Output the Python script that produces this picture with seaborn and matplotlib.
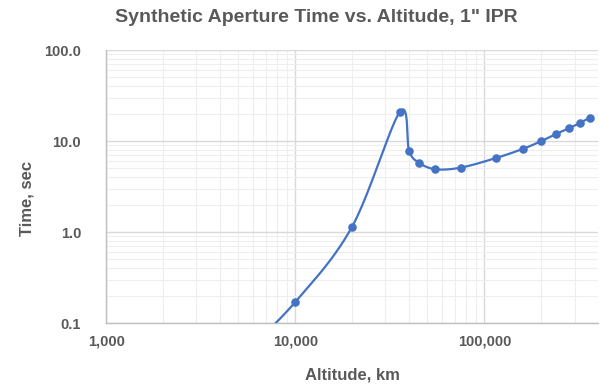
import numpy as np
import pandas as pd
import matplotlib
matplotlib.use("Agg")
import matplotlib.pyplot as plt
import seaborn as sns
from matplotlib.ticker import FixedLocator, LogLocator, FuncFormatter, NullFormatter

# ---- data ----
altitude_km = [5000, 10000, 20000, 35786, 40000, 45000, 55000, 75000,
               115000, 160000, 200000, 240000, 280000, 320000, 360000]
time_sec = [0.04, 0.17, 1.15, 21.0, 7.8, 5.8, 4.9, 5.1,
            6.5, 8.2, 10.0, 12.0, 13.8, 15.8, 18.0]
x_ticks = [1000, 10000, 100000]
y_ticks = [0.1, 1.0, 10.0, 100.0]
title = 'Synthetic Aperture Time vs. Altitude, 1" IPR'
x_label = "Altitude, km"
y_label = "Time, sec"

# ---- smoothed line (Excel-like Catmull-Rom in log-log space) ----
def smooth(xs, ys, n=40):
    lx = np.log10(np.asarray(xs, float))
    ly = np.log10(np.asarray(ys, float))
    P = np.column_stack([lx, ly])
    out = []
    for i in range(len(P) - 1):
        p0 = P[i - 1] if i > 0 else P[i]
        p1, p2 = P[i], P[i + 1]
        p3 = P[i + 2] if i + 2 < len(P) else P[i + 1]
        c1 = p1 + (p2 - p0) / 6.0
        c2 = p2 - (p3 - p1) / 6.0
        t = np.linspace(0, 1, n)[:, None]
        seg = ((1 - t) ** 3) * p1 + 3 * ((1 - t) ** 2) * t * c1 + 3 * (1 - t) * t ** 2 * c2 + t ** 3 * p2
        out.append(seg if i == 0 else seg[1:])
    S = np.vstack(out)
    return pd.DataFrame({"x": 10 ** S[:, 0], "y": 10 ** S[:, 1], "i": np.arange(len(S))})

sns.set_style("white")
plt.rcParams["font.family"] = ["Liberation Sans", "DejaVu Sans"]

fig = plt.figure(figsize=(6.0, 3.85), dpi=100)
ax = fig.add_axes([0.177, 0.161, 0.820, 0.709])

blue = "#4472C4"
grey_txt = "#595959"

curve = smooth(altitude_km, time_sec)
sns.lineplot(data=curve, x="x", y="y", sort=False, estimator=None, ax=ax,
             color=blue, linewidth=1.6, zorder=3)
pts = pd.DataFrame({"alt": altitude_km, "t": time_sec})
sns.scatterplot(data=pts, x="alt", y="t", ax=ax, color=blue, s=38,
                edgecolor=blue, linewidth=0, zorder=4)

ax.set_xscale("log")
ax.set_yscale("log")
ax.set_xlim(1000, 400000)
ax.set_ylim(0.1, 100)

ax.xaxis.set_major_locator(FixedLocator(x_ticks))
ax.yaxis.set_major_locator(FixedLocator(y_ticks))
ax.xaxis.set_minor_locator(LogLocator(base=10, subs=np.arange(2, 10)))
ax.yaxis.set_minor_locator(LogLocator(base=10, subs=np.arange(2, 10)))
ax.xaxis.set_minor_formatter(NullFormatter())
ax.yaxis.set_minor_formatter(NullFormatter())
ax.xaxis.set_major_formatter(FuncFormatter(lambda v, p: f"{v:,.0f}"))
ax.yaxis.set_major_formatter(FuncFormatter(lambda v, p: f"{v:.1f}"))

ax.grid(True, which="major", color="#d9d9d9", linewidth=1.0, zorder=0)
ax.grid(True, which="minor", color="#eeeeee", linewidth=0.8, zorder=0)
ax.set_axisbelow(True)

for s in ["top", "right"]:
    ax.spines[s].set_visible(False)
for s in ["left", "bottom"]:
    ax.spines[s].set_color("#bfbfbf")
    ax.spines[s].set_linewidth(1.0)

ax.tick_params(axis="both", which="both", length=0)
ax.tick_params(axis="x", pad=8)
ax.tick_params(axis="y", pad=18)
for lab in ax.get_xticklabels() + ax.get_yticklabels():
    lab.set_fontsize(10.5)
    lab.set_fontweight("bold")
    lab.set_color(grey_txt)

ax.set_xlabel(x_label, fontsize=12, fontweight="bold", color=grey_txt, labelpad=14)
ax.set_ylabel(y_label, fontsize=12, fontweight="bold", color=grey_txt)
ax.yaxis.set_label_coords(-0.146, 0.458)
fig.text(0.528, 0.955, title, ha="center", va="center", fontsize=14,
         fontweight="bold", color=grey_txt)

fig.savefig("out.png", dpi=100)
